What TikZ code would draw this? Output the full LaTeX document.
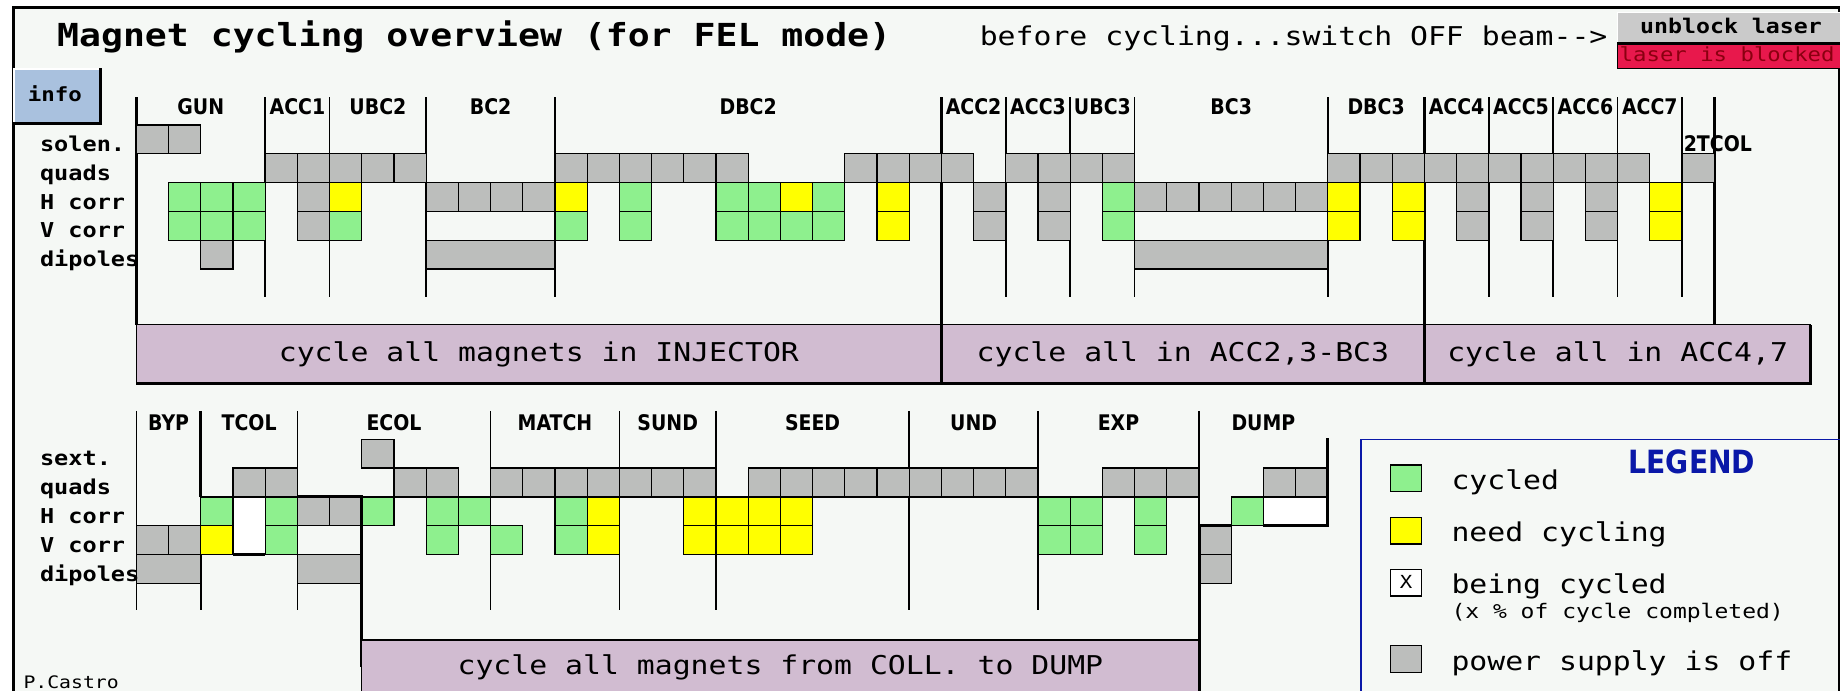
\documentclass[tikz,border=0pt]{standalone}
\usepackage{fontspec}
\newfontfamily\monof[FakeStretch=1.15]{DejaVu Sans Mono}
\newfontfamily\labf[FakeStretch=0.88]{DejaVu Sans}
\usetikzlibrary{positioning}

\definecolor{scrbg}{HTML}{F5F8F5}
\definecolor{psoff}{HTML}{BCBEBC}
\definecolor{cyc}{HTML}{8EF08E}
\definecolor{need}{HTML}{FFFF00}
\definecolor{lilac}{HTML}{D1BCD1}
\definecolor{infoblue}{HTML}{A9C1DE}
\definecolor{btngray}{HTML}{CACACA}
\definecolor{blockred}{HTML}{E8184C}
\definecolor{darkred}{HTML}{8A0010}
\definecolor{legblue}{HTML}{0A18A8}

\begin{document}
\begin{tikzpicture}[x=1pt, y=-1pt,
  magcell/.style={draw=black, line width=1.3pt},
  sepline/.style={line width=1.5pt},
  septhick/.style={line width=3pt},
  sectlab/.style={font=\labf\bfseries\fontsize{21.5}{24}\selectfont, inner sep=0pt, anchor=base},
  rowlab/.style={font=\monof\bfseries\fontsize{20.5}{22}\selectfont, inner sep=0pt, anchor=base west},
  boxtxt/.style={font=\monof\fontsize{25.9}{28}\selectfont, inner sep=0pt, anchor=base},
  legtxt/.style={font=\monof\fontsize{25.9}{28}\selectfont, inner sep=0pt, anchor=base west},
  cyclebox/.style={fill=lilac, draw=black, line width=1.2pt}]

\useasboundingbox (0,0) rectangle (1840,691);

% Screen background and window frame
\fill[white] (0,0) rectangle (1840,691);
\fill[scrbg] (13.5,7.5) rectangle (1838.5,691);
\draw[line width=3pt] (13.5,691) -- (13.5,7.5) -- (1840,7.5);
\draw[line width=2pt] (1838.5,7.5) -- (1838.5,691);

% Title and beam warning
\node[font=\monof\bfseries\fontsize{31.7}{34}\selectfont, inner sep=0pt, anchor=base west] (title) at (57,46.5) {Magnet cycling overview (for FEL mode)};
\node[font=\monof\fontsize{25.9}{28}\selectfont, inner sep=0pt, anchor=base west] (warn) at (979.6,45) {before cycling...switch OFF beam-{}->};

% Laser buttons
\fill[btngray] (1617.3,12.7) rectangle (1840,43);
\draw[white, line width=1.5pt] (1617.3,43) -- (1617.3,12.7) -- (1840,12.7);
\draw[line width=2.5pt] (1617.3,43.5) -- (1840,43.5);
\node[font=\monof\bfseries\fontsize{20.2}{22}\selectfont, inner sep=0pt, anchor=base] (unblock) at (1731,33) {unblock laser};
\fill[blockred] (1617.3,45) rectangle (1840,68.3);
\draw[line width=1.2pt] (1617.3,45) -- (1617.3,68.3) -- (1840,68.3);
\node[font=\monof\fontsize{19.4}{21}\selectfont, text=darkred, inner sep=0pt, anchor=base west] (blocked) at (1619.5,61.7) {laser is blocked};

% Info button
\fill[infoblue] (12.7,68.3) rectangle (101.7,125);
\draw[white, line width=2pt] (13.5,125) -- (13.5,69.3) -- (101.7,69.3);
\draw[line width=3pt] (12.7,123.5) -- (100.2,123.5) -- (100.2,68.3);
\node[font=\monof\bfseries\fontsize{19.5}{21}\selectfont, inner sep=0pt, anchor=base] (info) at (55,101.5) {info};

% Upper line: GUN to 2TCOL
\begin{scope}[shift={(136.4pt,-125pt)}, x=32.2pt, y=-28.8pt]
  \foreach \k in {4,6,9,13,27,29,31,37,42,44,46,48}
    \draw[sepline] (\k,-0.97) -- (\k,5.97);
  \foreach \k in {0,49}
    \draw[septhick] (\k,-0.97) -- (\k,6.94);
  \foreach \k in {25,40}
    \draw[septhick] (\k,-0.97) -- (\k,8.96);

  \foreach \r/\a/\b/\c in {0/0/1/psoff,
      1/4/8/psoff, 1/13/18/psoff, 1/22/25/psoff, 1/27/30/psoff, 1/37/46/psoff, 1/48/48/psoff,
      2/1/3/cyc, 2/5/5/psoff, 2/6/6/need, 2/9/12/psoff, 2/13/13/need, 2/15/15/cyc,
      2/18/19/cyc, 2/20/20/need, 2/21/21/cyc, 2/23/23/need, 2/26/26/psoff, 2/28/28/psoff,
      2/30/30/cyc, 2/31/36/psoff, 2/37/37/need, 2/39/39/need, 2/41/41/psoff,
      2/43/43/psoff, 2/45/45/psoff, 2/47/47/need,
      3/1/3/cyc, 3/5/5/psoff, 3/6/6/cyc, 3/13/13/cyc, 3/15/15/cyc, 3/18/21/cyc,
      3/23/23/need, 3/26/26/psoff, 3/28/28/psoff, 3/30/30/cyc, 3/37/37/need,
      3/39/39/need, 3/41/41/psoff, 3/43/43/psoff, 3/45/45/psoff, 3/47/47/need,
      4/2/2/psoff}
    \foreach \k in {\a,...,\b}
      \draw[magcell, fill=\c] (\k,\r) rectangle ++(1,1);
  \draw[magcell, fill=psoff] (9,4) rectangle (13,5);
  \draw[magcell, fill=psoff] (31,4) rectangle (37,5);

  % section names
  \foreach \t/\a/\b in {GUN/0/4, ACC1/4/6, UBC2/6/9, BC2/9/13, DBC2/13/25, ACC2/25/27,
      ACC3/27/29, UBC3/29/31, BC3/31/37, DBC3/37/40, ACC4/40/42, ACC5/42/44,
      ACC6/44/46, ACC7/46/48}
    \node[sectlab] (sec-\t) at ({(\a+\b)/2},-0.35) {\t};
  \node[sectlab, anchor=base west] (sec-2TCOL) at (48.05,0.93) {2TCOL};

  % row names
  \foreach \t [count=\r from 0] in {solen., quads, H corr, V corr, dipoles}
    \node[rowlab] (urow-\r) at (-3,\r+0.92) {\t};

  % cycle buttons
  \draw[cyclebox] (0,6.94) rectangle (25,8.96);
  \draw[cyclebox] (25,6.94) rectangle (40,8.96);
  \draw[cyclebox] (40,6.94) rectangle (52,8.96);
  \draw[septhick] (0,8.96) -- (52,8.96) -- (52,6.94);
  \draw[septhick] (25,6.94) -- (25,8.96);
  \draw[septhick] (40,6.94) -- (40,8.96);
  \node[boxtxt] (cyc-inj) at (12.5,8.21) {cycle all magnets in INJECTOR};
  \node[boxtxt] (cyc-bc3) at (32.5,8.21) {cycle all in ACC2,3-BC3};
  \node[boxtxt] (cyc-acc) at (46,8.21) {cycle all in ACC4,7};
\end{scope}

% Lower line: BYP to DUMP
\begin{scope}[shift={(136.4pt,-439.3pt)}, x=32.2pt, y=-28.8pt]
  \foreach \k in {0,5,11,15,18,24,28}
    \draw[sepline] (\k,-0.99) -- (\k,5.93);
  \draw[septhick] (2,-0.99) -- (2,2);
  \draw[sepline] (2,2) -- (2,5.93);
  \draw[sepline] (33,-0.99) -- (33,3);

  \foreach \r/\a/\b/\c in {0/7/7/psoff,
      1/3/4/psoff, 1/8/9/psoff, 1/11/17/psoff, 1/19/27/psoff, 1/30/32/psoff, 1/35/36/psoff,
      2/2/2/cyc, 2/4/4/cyc, 2/5/6/psoff, 2/7/7/cyc, 2/9/10/cyc, 2/13/13/cyc,
      2/14/14/need, 2/17/20/need, 2/28/29/cyc, 2/31/31/cyc, 2/34/34/cyc,
      3/0/1/psoff, 3/2/2/need, 3/4/4/cyc, 3/9/9/cyc, 3/11/11/cyc, 3/13/13/cyc,
      3/14/14/need, 3/17/20/need, 3/28/29/cyc, 3/31/31/cyc, 3/33/33/psoff,
      4/33/33/psoff}
    \foreach \k in {\a,...,\b}
      \draw[magcell, fill=\c] (\k,\r) rectangle ++(1,1);
  \draw[magcell, fill=psoff] (0,4) rectangle (2,5);
  \draw[magcell, fill=psoff] (5,4) rectangle (7,5);
  \draw[magcell, fill=white] (3,2) rectangle (4,4);
  \draw[magcell, fill=white] (35,2) rectangle (37,3);

  % group borders
  \draw[septhick] (3,4) -- (4,4);
  \draw[septhick] (5,2) -- (7,2) -- (7,7.9);
  \draw[septhick] (35,3) -- (37,3) -- (37,-0.05);
  \draw[septhick] (33,9) -- (33,3) -- (34,3);

  % section names
  \foreach \t/\a/\b in {BYP/0/2, TCOL/2/5, ECOL/5/11, MATCH/11/15, SUND/15/18,
      SEED/18/24, UND/24/28, EXP/28/33, DUMP/33/37}
    \node[sectlab] (sec-\t) at ({(\a+\b)/2},-0.32) {\t};

  % row names
  \foreach \t [count=\r from 0] in {sext., quads, H corr, V corr, dipoles}
    \node[rowlab] (lrow-\r) at (-3,\r+0.92) {\t};

  % cycle button
  \draw[cyclebox] (7,6.97) rectangle (33,9);
  \node[boxtxt] (cyc-dump) at (20,8.18) {cycle all magnets from COLL. to DUMP};
\end{scope}

% Legend
\draw[legblue, line width=1.3pt] (1361,691) -- (1361,439.3) -- (1840,439.3);
\node[font=\labf\bfseries\fontsize{32}{34}\selectfont, text=legblue, inner sep=0pt, anchor=base] (legend) at (1692,473.3) {LEGEND};
\draw[magcell, fill=cyc] (1390.8,465) rectangle (1421.7,491.7);
\draw[magcell, fill=need] (1390.8,517.3) rectangle (1421.7,544);
\draw[magcell, fill=white] (1390.8,569.3) rectangle (1421.7,596);
\draw[magcell, fill=psoff] (1390.8,645.7) rectangle (1421.7,672.3);
\node[font=\monof\fontsize{18}{20}\selectfont, inner sep=0pt] (xmark) at (1406.2,582.2) {X};
\node[legtxt] (leg-cyc) at (1451.3,489.3) {cycled};
\node[legtxt] (leg-need) at (1451.3,541.7) {need cycling};
\node[legtxt] (leg-being) at (1451.3,593.3) {being cycled};
\node[font=\monof\fontsize{20}{22}\selectfont, inner sep=0pt, anchor=base west] (leg-pct) at (1451.3,618.3) {(x \% of cycle completed)};
\node[legtxt] (leg-off) at (1451.3,670) {power supply is off};

% Author
\node[font=\monof\fontsize{17.2}{19}\selectfont, inner sep=0pt, anchor=base west] (author) at (23.3,688) {P.Castro};

\end{tikzpicture}
\end{document}
